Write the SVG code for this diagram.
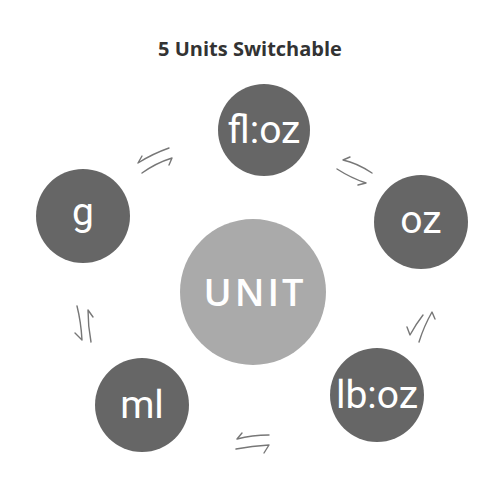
<svg xmlns="http://www.w3.org/2000/svg" width="500" height="500" viewBox="0 0 500 500">
<style>
.title{font-family:"Open Sans","Liberation Sans",sans-serif;font-weight:700;font-size:20px;fill:#333}
.dark{fill:#666}
.light{fill:#aaa}
.lbl{font-family:"Roboto","Liberation Sans",sans-serif;font-weight:400;font-size:39px;fill:#fff;text-anchor:middle}
.big{font-family:"Open Sans","Liberation Sans",sans-serif;font-weight:600;font-size:38px;fill:#fff;text-anchor:middle;letter-spacing:3px}
.arr{fill:none;stroke:#777;stroke-width:1.4;stroke-linecap:round;stroke-linejoin:round}
</style>
<rect width="500" height="500" fill="#fff"/>
<text class="title" x="250" y="56" text-anchor="middle">5 Units Switchable</text>
<g id="unit"><circle class="light" cx="253" cy="292" r="73"/><text class="big" x="255" y="306">UNIT</text></g>
<g id="floz"><circle class="dark" cx="264" cy="130" r="46"/><text class="lbl" x="264" y="143">fl:oz</text></g>
<g id="oz"><circle class="dark" cx="421" cy="222" r="47"/><text class="lbl" x="421" y="233">oz</text></g>
<g id="lboz"><circle class="dark" cx="377" cy="395" r="47"/><text class="lbl" x="377" y="408">lb:oz</text></g>
<g id="ml"><circle class="dark" cx="142" cy="405" r="47"/><text class="lbl" x="142" y="418">ml</text></g>
<g id="g"><circle class="dark" cx="83" cy="216" r="47"/><text class="lbl" x="83" y="225">g</text></g>
<g id="connectors">
<path class="arr" d="M169,148 Q152,154 138,163 L142,156"/>
<path class="arr" d="M142,173 Q156,163 172,158 L169,165"/>
<path class="arr" d="M372,173 Q357,163 343,160 L350,157"/>
<path class="arr" d="M337,169 Q351,178 366,183 L358,185"/>
<path class="arr" d="M423,315 Q416,324 410,335 L407,327"/>
<path class="arr" d="M419,342 Q424,326 432,312 L435,319"/>
<path class="arr" d="M269,435 Q252,435 237,439 L242,433"/>
<path class="arr" d="M236,449 Q252,446 269,445 L264,453"/>
<path class="arr" d="M77,306 Q81,322 82,340 L75,333"/>
<path class="arr" d="M91,342 Q88,326 88,310 L93,317"/>
</g>
</svg>
